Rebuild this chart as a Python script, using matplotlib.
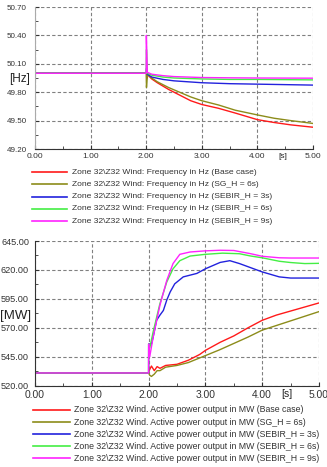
import matplotlib
matplotlib.use("Agg")
import matplotlib.pyplot as plt
import numpy as np
from matplotlib.lines import Line2D
from matplotlib.ticker import MultipleLocator, FormatStrFormatter

plt.rcParams['font.family'] = ['Liberation Sans', 'DejaVu Sans']

# ---------------- data: frequency (Hz) ----------------
f_base_t = [0, 2.0, 2.05, 2.1, 2.2, 2.4, 2.6, 2.8, 3.0, 3.3, 3.6, 4.0, 4.3, 4.6, 5.0]
f_base_v = [50.0, 50.0, 49.97, 49.94, 49.90, 49.83, 49.77, 49.71, 49.67, 49.63, 49.58, 49.51, 49.48, 49.455, 49.43]
f_sg_t = [0, 2.0, 2.005, 2.015, 2.03, 2.1, 2.2, 2.4, 2.6, 2.8, 3.0, 3.3, 3.6, 4.0, 4.3, 4.6, 5.0]
f_sg_v = [50.0, 50.0, 49.85, 49.93, 49.99, 49.95, 49.91, 49.85, 49.80, 49.75, 49.71, 49.665, 49.61, 49.56, 49.525, 49.50, 49.47]
f_s3_t = [0, 2.0, 2.005, 2.02, 2.1, 2.3, 2.5, 3.0, 3.5, 4.0, 5.0]
f_s3_v = [50.0, 50.0, 50.05, 49.99, 49.96, 49.935, 49.92, 49.90, 49.89, 49.885, 49.875]
f_s6_t = [0, 2.0, 2.005, 2.02, 2.1, 2.3, 2.5, 3.0, 3.5, 4.0, 5.0]
f_s6_v = [50.0, 50.0, 50.25, 50.0, 49.98, 49.96, 49.95, 49.94, 49.935, 49.935, 49.93]
f_s9_t = [0, 2.0, 2.003, 2.02, 2.1, 2.3, 2.5, 3.0, 3.5, 4.0, 5.0]
f_s9_v = [50.0, 50.0, 50.40, 50.01, 49.99, 49.975, 49.965, 49.955, 49.952, 49.95, 49.948]

# ---------------- data: active power (MW) ----------------
p_base_t = [0, 2.0, 2.01, 2.05, 2.1, 2.15, 2.2, 2.3, 2.5, 2.7, 2.9, 3.0, 3.26, 3.5, 3.75, 4.0, 4.25, 4.5, 4.75, 5.0]
p_base_v = [531, 531, 533, 537, 533, 536.5, 535, 537.5, 538.5, 542, 547, 550.5, 557.5, 563, 570, 576.5, 581, 584.5, 588, 591.5]
p_sg_t = [0, 2.0, 2.02, 2.05, 2.1, 2.15, 2.2, 2.3, 2.5, 2.7, 3.0, 3.25, 3.5, 3.75, 4.0, 4.25, 4.5, 4.75, 5.0]
p_sg_v = [531, 531, 529, 528, 530, 533, 533, 536, 537.5, 540, 546, 551, 556.5, 562, 568, 572, 576, 580, 584]
p_s3_t = [0, 2.0, 2.001, 2.05, 2.08, 2.14, 2.2, 2.26, 2.32, 2.38, 2.46, 2.61, 2.85, 3.0, 3.26, 3.43, 3.6, 4.0, 4.3, 4.5, 5.0]
p_s3_v = [531, 531, 556, 556, 562, 576.5, 581, 585, 594, 601, 608, 614, 617, 621, 626.5, 628, 625.5, 618.3, 614, 613, 613]
p_s6_t = [0, 2.0, 2.001, 2.02, 2.08, 2.2, 2.32, 2.43, 2.55, 2.73, 3.0, 3.3, 3.6, 3.8, 4.0, 4.3, 4.5, 4.75, 5.0]
p_s6_v = [531, 531, 556, 552.5, 566.5, 591, 609.6, 621, 628, 632, 633.5, 634.5, 634, 632, 630.5, 627.5, 626.4, 625.5, 625.7]
p_s9_t = [0, 2.0, 2.001, 2.02, 2.08, 2.2, 2.32, 2.43, 2.55, 2.73, 3.0, 3.26, 3.5, 3.8, 4.0, 4.3, 4.5, 5.0]
p_s9_v = [531, 531, 556, 545, 562, 589.6, 611, 625.5, 633.5, 635.5, 636.5, 637, 636.8, 634, 631.8, 630.5, 630.3, 630.3]

freq_ticks = [49.20, 49.50, 49.80, 50.10, 50.40, 50.70]
power_ticks = [520, 545, 570, 595, 620, 645]
time_ticks = [0, 1, 2, 3, 4, 5]

colors = ['#ff1a1a', '#8c8c1a', '#2222dd', '#44ee44', '#ff22ff']
case_names = ['Base case', 'SG_H = 6s', 'SEBIR_H = 3s', 'SEBIR_H = 6s', 'SEBIR_H = 9s']
freq_prefix = 'Zone 32\\Z32 Wind: Frequency in Hz'
power_prefix = 'Zone 32\\Z32 Wind. Active power output in MW'

freq_series = [(f_base_t, f_base_v), (f_sg_t, f_sg_v), (f_s3_t, f_s3_v), (f_s6_t, f_s6_v), (f_s9_t, f_s9_v)]
power_series = [(p_base_t, p_base_v), (p_sg_t, p_sg_v), (p_s3_t, p_s3_v), (p_s6_t, p_s6_v), (p_s9_t, p_s9_v)]

W, H = 327, 467
fig = plt.figure(figsize=(W / 100, H / 100), dpi=100)
fig.patch.set_facecolor('white')


def fx(px):
    return px / W


def fy(py):
    return 1 - py / H


ax1 = fig.add_axes([fx(35), fy(149), fx(313) - fx(35), fy(7) - fy(149)])
ax2 = fig.add_axes([fx(35), fy(385.7), fx(319) - fx(35), fy(241) - fy(385.7)])

for (t, v), c in zip(freq_series, colors):
    ax1.plot(t, v, color=c, lw=1.0, solid_joinstyle='round')
for (t, v), c in zip(power_series, colors):
    ax2.plot(t, v, color=c, lw=1.0, solid_joinstyle='round')


def midpoints(ticks):
    return [(a + b) / 2 for a, b in zip(ticks[:-1], ticks[1:])]


ax1.set_xlim(time_ticks[0], time_ticks[-1])
ax1.set_ylim(freq_ticks[0], freq_ticks[-1])
ax1.set_yticks(freq_ticks)
ax1.set_yticks(midpoints(freq_ticks), minor=True)
ax2.set_xlim(time_ticks[0], time_ticks[-1])
ax2.set_ylim(power_ticks[0], power_ticks[-1])
ax2.set_yticks(power_ticks)
ax2.set_yticks(midpoints(power_ticks), minor=True)

for ax, ys, xs, ypad in [(ax1, 5.8, 6.0, 5.8), (ax2, 6.6, 7.4, 4.3)]:
    ax.set_xticks(time_ticks)
    ax.set_xticks(midpoints(time_ticks), minor=True)
    ax.xaxis.set_major_formatter(FormatStrFormatter('%.2f'))
    ax.yaxis.set_major_formatter(FormatStrFormatter('%.2f'))
    ax.grid(True, which='major', color='#808080', ls=(0, (3, 2)), lw=0.8)
    ax.set_axisbelow(True)
    for s in ['top', 'right']:
        ax.spines[s].set_visible(False)
    ax.spines['bottom'].set_color('#333333')
    ax.spines['left'].set_color('#333333')
    ax.tick_params(axis='y', which='both', direction='in', length=3, pad=ypad,
                   labelsize=ys, colors='#333333')
    ax.tick_params(axis='x', which='both', direction='in', length=3, pad=3,
                   labelsize=xs, colors='#333333')
    ax.tick_params(which='minor', length=2)
ax1.spines['left'].set_color('#aaaaaa')

# unit labels
fig.text(fx(20), fy(79), '[Hz]', fontsize=8.5, ha='center', va='center', color='#222222')
fig.text(fx(16), fy(316), '[MW]', fontsize=9.5, ha='center', va='center', color='#222222')
fig.text(fx(283), fy(157), '[s]', fontsize=6.0, ha='center', va='center', color='#222222')
fig.text(fx(287), fy(394), '[s]', fontsize=7.4, ha='center', va='center', color='#222222')

# legends
for i, (c, name) in enumerate(zip(colors, case_names)):
    y = 172 + i * 12.3
    fig.add_artist(Line2D([fx(32), fx(67)], [fy(y), fy(y)], color=c, lw=1.2))
    fig.text(fx(72), fy(y), f'{freq_prefix} ({name})', fontsize=6.1,
             ha='left', va='center', color='#333333')
for i, (c, name) in enumerate(zip(colors, case_names)):
    y = 410 + i * 12.1
    fig.add_artist(Line2D([fx(33), fx(70)], [fy(y), fy(y)], color=c, lw=1.2))
    fig.text(fx(74), fy(y), f'{power_prefix} ({name})', fontsize=6.3,
             ha='left', va='center', color='#333333')

fig.savefig('out.png', dpi=100)
